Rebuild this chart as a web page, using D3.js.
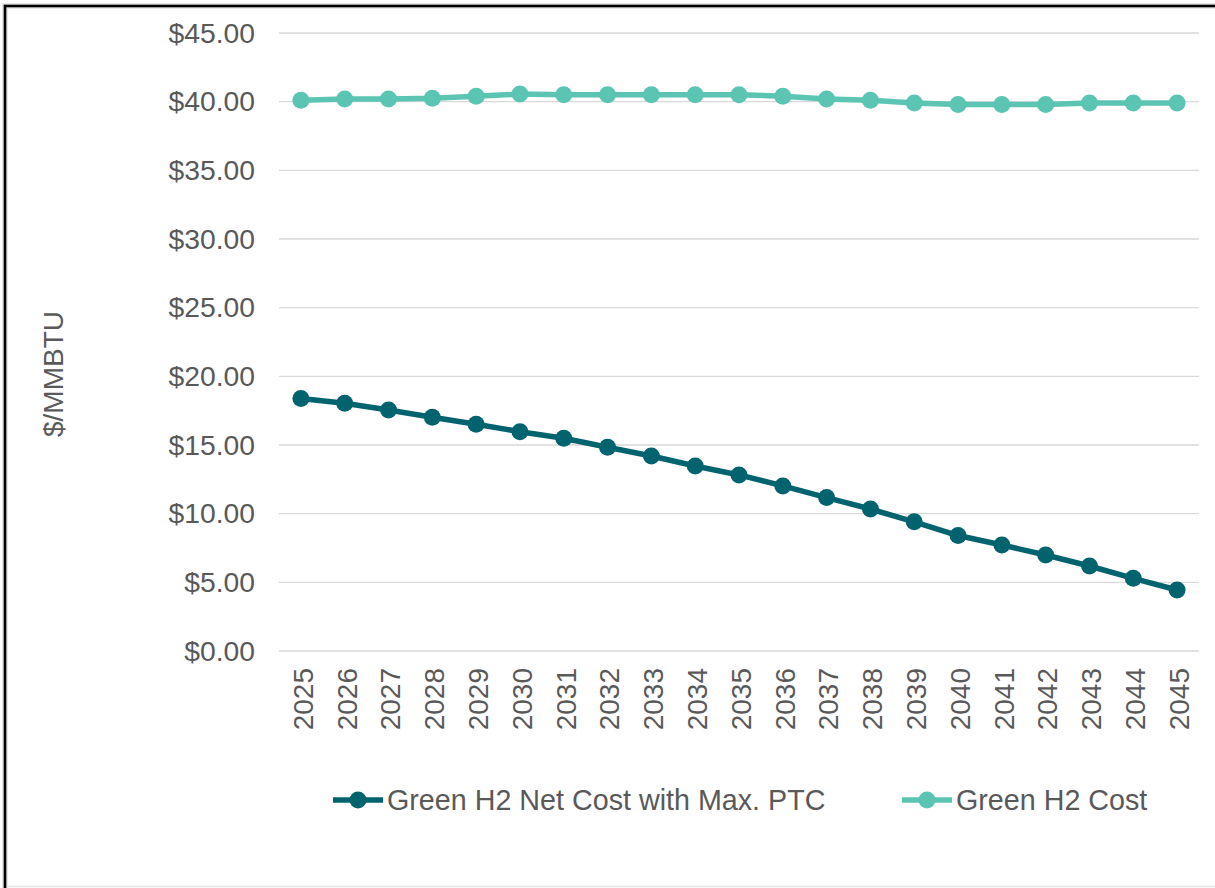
<!DOCTYPE html>
<html>
<head>
<meta charset="utf-8">
<script src="https://cdn.jsdelivr.net/npm/d3@7"></script>
<style>
  body { margin: 0; background: #fff; }
  svg text { font-family: "Liberation Sans", Arial, sans-serif; fill: #595959; }
</style>
</head>
<body>
<div id="chart"></div>
<script>
// ---- data
var years = ["2025","2026","2027","2028","2029","2030","2031","2032","2033","2034","2035",
             "2036","2037","2038","2039","2040","2041","2042","2043","2044","2045"];
var netCostMaxPTC = [18.38, 18.04, 17.55, 17.02, 16.51, 15.97, 15.49, 14.84, 14.20, 13.47, 12.82,
                     12.02, 11.17, 10.34, 9.41, 8.41, 7.72, 6.99, 6.19, 5.29, 4.44];
var greenH2Cost = [40.10, 40.20, 40.20, 40.25, 40.40, 40.55, 40.50, 40.50, 40.50, 40.50, 40.50,
                   40.40, 40.20, 40.10, 39.90, 39.80, 39.80, 39.80, 39.90, 39.90, 39.90];
var yTicks = [0, 5, 10, 15, 20, 25, 30, 35, 40, 45];
var seriesNames = ["Green H2 Net Cost with Max. PTC", "Green H2 Cost"];
var seriesColors = ["#00636E", "#5BC4B2"];

// ---- layout
var W = 1215, H = 888;
var plot = {left: 279, right: 1199, top: 33, bottom: 651};

var svg = d3.select("#chart")
  .append("svg")
    .attr("width", W)
    .attr("height", H);

// frame (screenshot crop: border on left/top only visible)
svg.append("rect")
    .attr("x", 5).attr("y", 6)
    .attr("width", W + 20).attr("height", H + 20)
    .attr("fill", "none")
    .attr("stroke", "#d0d0d0")
    .attr("stroke-width", 5);
svg.append("rect")
    .attr("x", 5).attr("y", 6)
    .attr("width", W + 20).attr("height", H + 20)
    .attr("fill", "none")
    .attr("stroke", "#000")
    .attr("stroke-width", 2.5);
svg.append("line")
    .attr("x1", 8).attr("x2", W).attr("y1", 886.5).attr("y2", 886.5)
    .attr("stroke", "#e3e3e3").attr("stroke-width", 1.5);

const xScale = d3.scaleBand()
    .domain(years)
    .range([plot.left, plot.right]);

const yScale = d3.scaleLinear()
    .domain([0, 45])
    .range([plot.bottom, plot.top]);

// gridlines
svg.append("g")
  .selectAll("line")
  .data(yTicks)
  .join("line")
    .attr("x1", plot.left).attr("x2", plot.right)
    .attr("y1", d => yScale(d)).attr("y2", d => yScale(d))
    .attr("stroke", "#d9d9d9")
    .attr("stroke-width", 1.3);

// y axis labels
const yAxis = d3.axisLeft(yScale)
    .tickValues(yTicks)
    .tickSize(0)
    .tickPadding(24)
    .tickFormat(d => "$" + d3.format(".2f")(d));
svg.append("g")
    .attr("transform", "translate(" + plot.left + ",0)")
    .call(yAxis)
    .call(g => g.select(".domain").remove())
    .selectAll("text")
      .attr("font-size", 28.3)
      .attr("fill", "#595959");

// x axis labels (rotated)
svg.append("g")
  .selectAll("text")
  .data(years)
  .join("text")
    .attr("transform", d => "translate(" + (xScale(d) + xScale.bandwidth() / 2 + 2) + ",668) rotate(-90)")
    .attr("text-anchor", "end")
    .attr("dy", "0.35em")
    .attr("font-size", 28)
    .text(d => d);

// y title
svg.append("text")
    .attr("transform", "translate(53,374) rotate(-90)")
    .attr("text-anchor", "middle")
    .attr("dy", "0.35em")
    .attr("font-size", 28)
    .text("$/MMBTU");

const line = d3.line()
    .x((d, i) => xScale(years[i]) + xScale.bandwidth() / 2)
    .y(d => yScale(d));

function drawSeries(values, color) {
  svg.append("path")
      .datum(values)
      .attr("d", line)
      .attr("fill", "none")
      .attr("stroke", color)
      .attr("stroke-width", 5.5)
      .attr("stroke-linejoin", "round");
  svg.append("g")
    .selectAll("circle")
    .data(values)
    .join("circle")
      .attr("cx", (d, i) => xScale(years[i]) + xScale.bandwidth() / 2)
      .attr("cy", d => yScale(d))
      .attr("r", 8.5)
      .attr("fill", color);
}

drawSeries(greenH2Cost, seriesColors[1]);
drawSeries(netCostMaxPTC, seriesColors[0]);

// legend
var legendX = [333, 902];
var legend = svg.append("g")
  .selectAll("g")
  .data(seriesNames)
  .join("g")
    .attr("transform", (d, i) => "translate(" + legendX[i] + ",800)");
legend.append("line")
    .attr("x1", 0).attr("x2", 50)
    .attr("stroke", (d, i) => seriesColors[i])
    .attr("stroke-width", 5.5);
legend.append("circle")
    .attr("cx", 25).attr("r", 8.5)
    .attr("fill", (d, i) => seriesColors[i]);
legend.append("text")
    .attr("x", 54)
    .attr("dy", "0.35em")
    .attr("font-size", 28.7)
    .text(d => d);
</script>
</body>
</html>
